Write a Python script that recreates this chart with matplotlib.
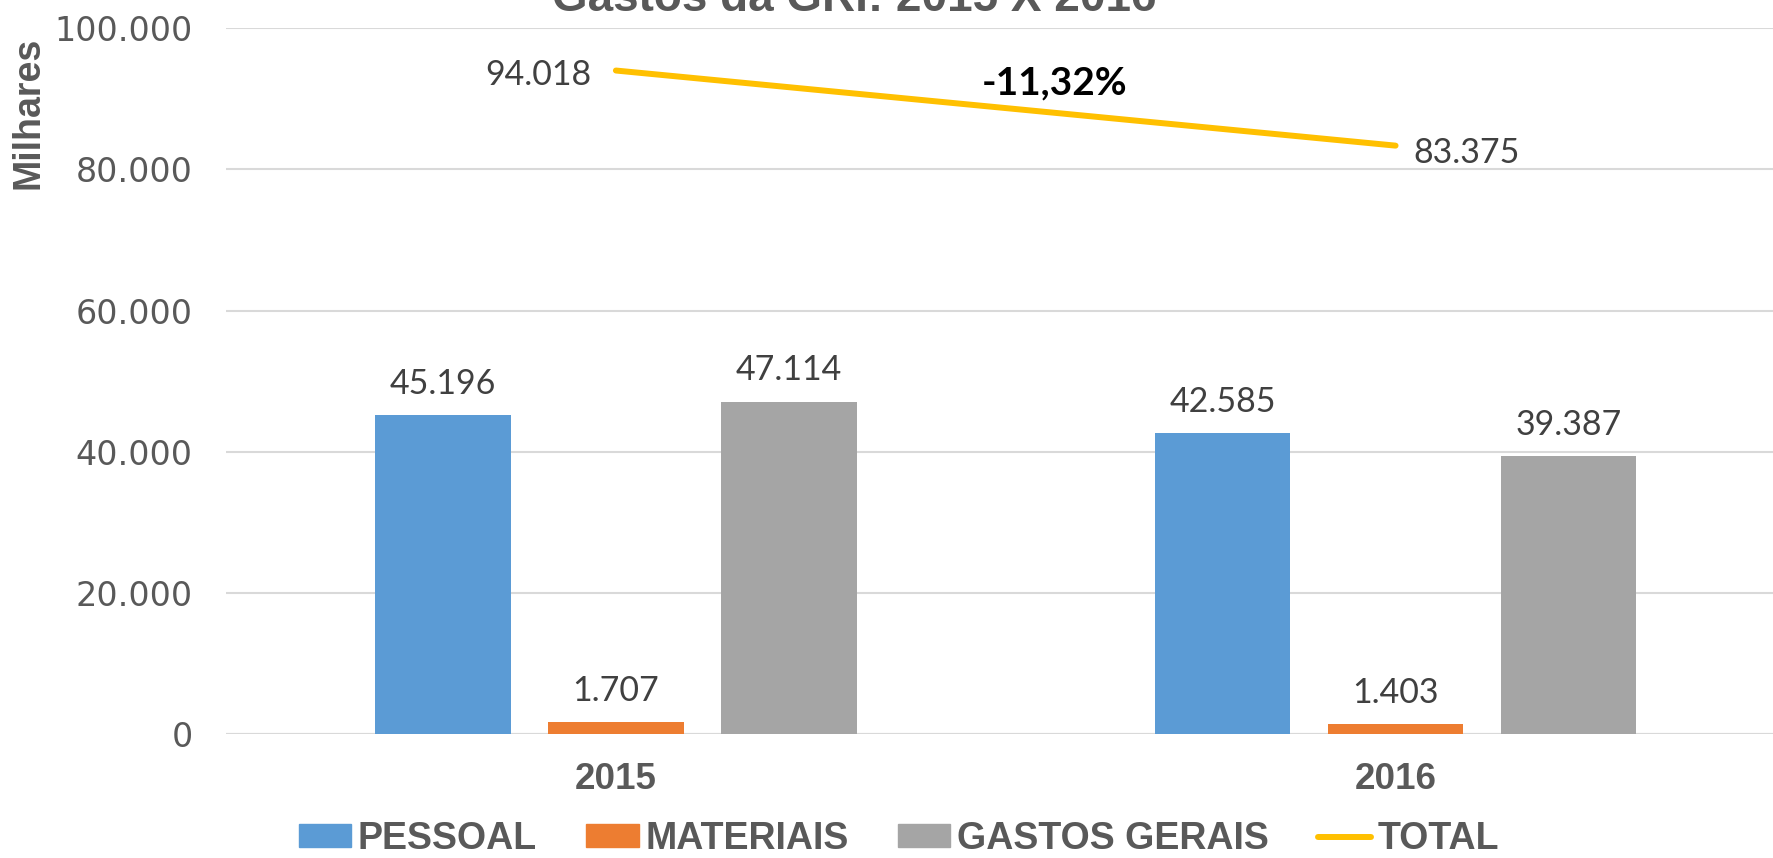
import matplotlib
matplotlib.use("Agg")
import matplotlib.pyplot as plt
from matplotlib.patches import Patch
from matplotlib.lines import Line2D
import numpy as np

years = ["2015", "2016"]
pessoal = [45196, 42585]
materiais = [1707, 1403]
gastos_gerais = [47114, 39387]
total = [94018, 83375]
series_names = ["PESSOAL", "MATERIAIS", "GASTOS GERAIS", "TOTAL"]
change_label = "-11,32%"
title = "Gastos da GRI: 2015 X 2016"
yticks = [0, 20000, 40000, 60000, 80000, 100000]

colors = ["#5B9BD5", "#ED7D31", "#A5A5A5", "#FFC000"]
gray = "#595959"
labcol = "#404040"

def fmt(v):
    return f"{v:,.0f}".replace(",", ".")

fig = plt.figure(figsize=(17.73, 8.58), dpi=100)
ax = fig.add_axes([0.1275, 0.1445, 0.8795, 0.8225])

x = np.arange(len(years))
w = 0.174
off = 0.222
for vals, o, c in zip([pessoal, materiais, gastos_gerais], [-off, 0, off], colors[:3]):
    bars = ax.bar(x + o, vals, width=w, color=c, zorder=3)
    for b, v in zip(bars, vals):
        ax.annotate(fmt(v), (b.get_x() + b.get_width() / 2, v), xytext=(0, 11),
                    textcoords="offset points", ha="center", va="bottom",
                    fontsize=24.5, family="Lato", color=labcol)

ax.plot(x, total, color=colors[3], lw=4.3, zorder=4, solid_capstyle="round")
ax.annotate(fmt(total[0]), (x[0], total[0]), xytext=(-18, -3), textcoords="offset points",
            ha="right", va="center", fontsize=24.5, family="Lato", color=labcol)
ax.annotate(fmt(total[1]), (x[1], total[1]), xytext=(13, -5), textcoords="offset points",
            ha="left", va="center", fontsize=24.5, family="Lato", color=labcol)
ax.annotate(change_label, (0.562, 92300), ha="center", va="center", fontsize=28,
            family="Lato", fontweight="bold", color="black")

ax.set_xlim(-0.5, 1.5)
ax.set_ylim(0, 100000)
ax.set_yticks(yticks)
ax.set_yticklabels([fmt(v) for v in yticks], fontsize=24, family="DejaVu Sans", color=gray)
ax.set_xticks(x)
ax.set_xticklabels(years, fontsize=26.5, family="Liberation Sans", fontweight="bold", color=gray)
ax.tick_params(axis="both", length=0)
ax.tick_params(axis="y", pad=24)
ax.tick_params(axis="x", pad=20)
ax.grid(axis="y", color="#D9D9D9", lw=1.5, zorder=0)
for s in ax.spines.values():
    s.set_visible(False)
ax.axhline(0, color="#D9D9D9", lw=1.5, zorder=2)

fig.text(0.016, 0.868, "Milhares", rotation=90, ha="center", va="center",
         fontsize=27, family="Liberation Sans", fontweight="bold", color=gray)
fig.text(0.482, 0.987, title, ha="center", va="baseline", fontsize=33,
         family="Liberation Sans", fontweight="bold", color=gray)

handles = [Patch(color=c) for c in colors[:3]] + [
    Line2D([0], [0], color=colors[3], lw=4.3, solid_capstyle="round")]
fig.legend(handles, series_names, loc="center", bbox_to_anchor=(0.507, 0.022), ncol=4,
           frameon=False, prop={"family": "Liberation Sans", "weight": "bold", "size": 27},
           labelcolor=gray, handlelength=1.39, handleheight=0.56, handletextpad=0.18,
           columnspacing=1.32, borderpad=0)

fig.savefig("out.png", dpi=100)
